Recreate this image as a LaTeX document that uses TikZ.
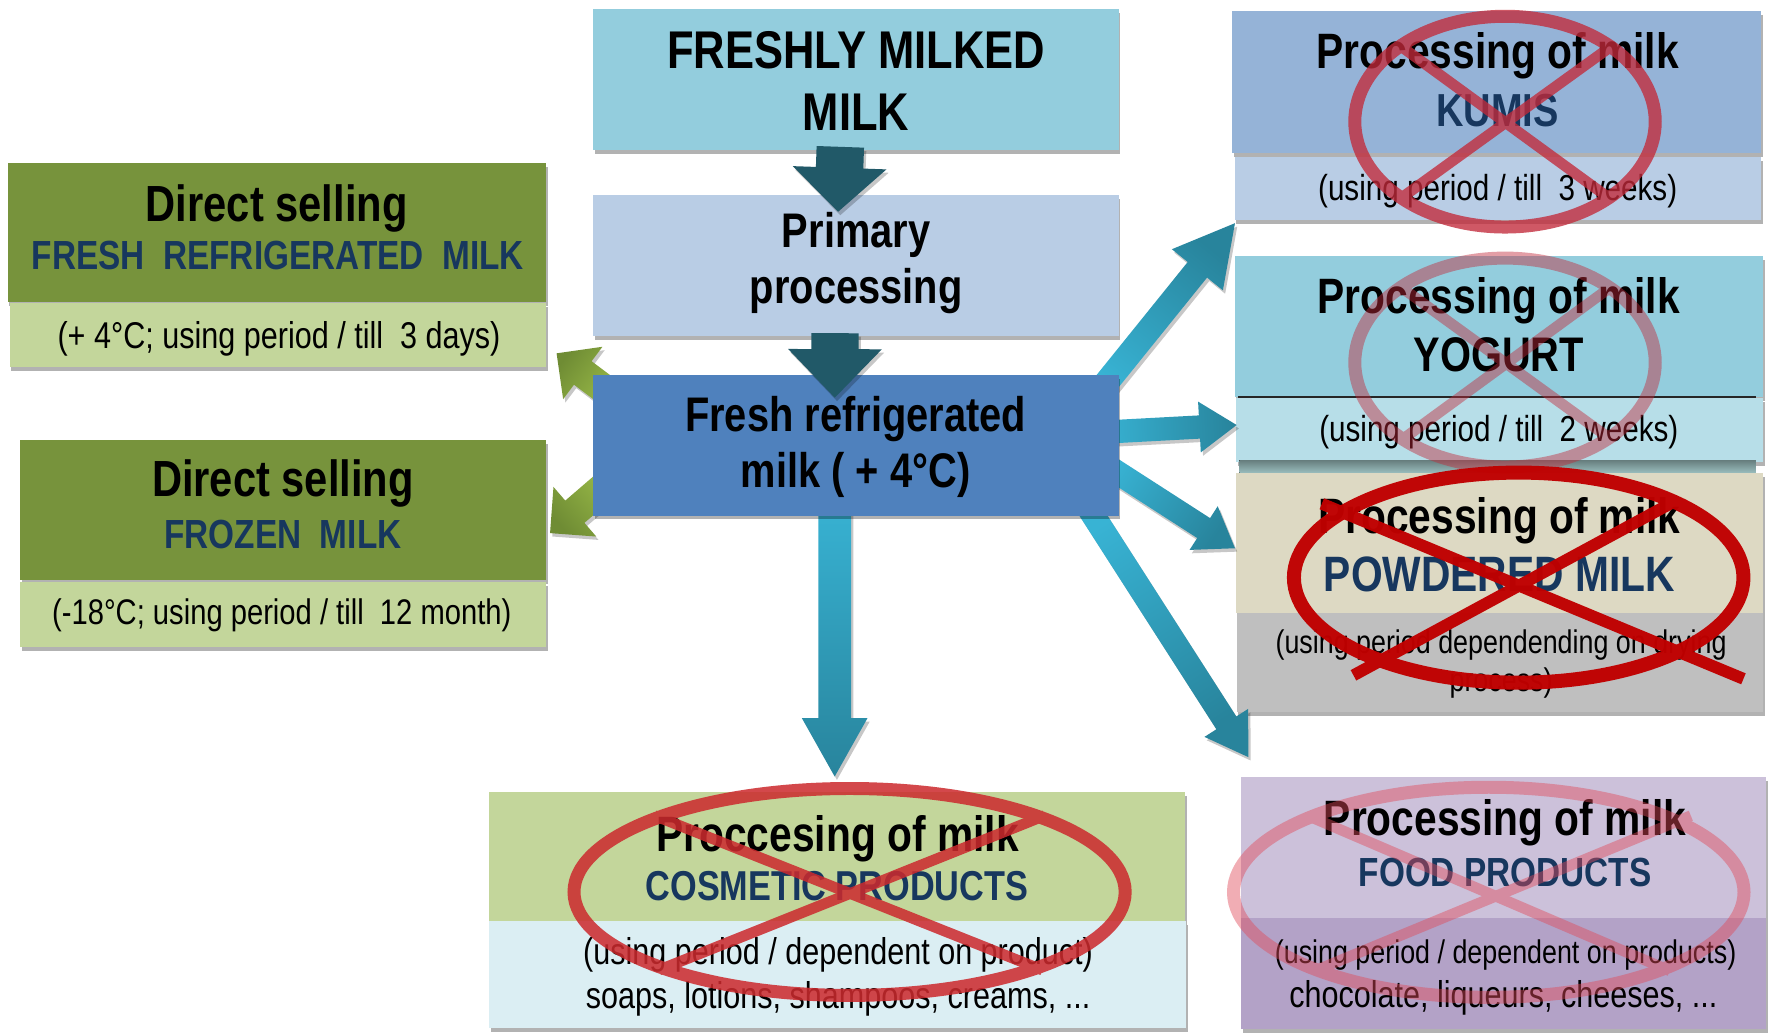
\documentclass[tikz,border=0pt]{standalone}
\usepackage{fontspec}
\setmainfont{Liberation Sans}[FakeStretch=0.82]
\usetikzlibrary{calc}
\definecolor{olivehd}{HTML}{77933C}
\definecolor{olivesub}{HTML}{C3D69B}
\definecolor{navytxt}{HTML}{17375E}
\definecolor{aquahd}{HTML}{93CDDD}
\definecolor{aquasub}{HTML}{B7DEE8}
\definecolor{bluelt}{HTML}{B9CDE5}
\definecolor{bluemid}{HTML}{95B3D7}
\definecolor{bluedk}{HTML}{4F81BD}
\definecolor{tanhd}{HTML}{DDD9C3}
\definecolor{graysub}{HTML}{BFBFBF}
\definecolor{lilachd}{HTML}{CCC1DA}
\definecolor{lilacsub}{HTML}{B3A2C7}
\definecolor{icesub}{HTML}{DBEEF3}
\definecolor{darkteal}{HTML}{215968}
\definecolor{teallt}{HTML}{38B3D4}
\definecolor{tealdk}{HTML}{28849C}
\definecolor{greenlt}{HTML}{9DBE4A}
\definecolor{greendk}{HTML}{6F8C34}
\definecolor{crossred}{HTML}{C22A3A}
\definecolor{cosred}{HTML}{CC2A2E}
\definecolor{foodred}{HTML}{E04A5A}
\definecolor{strongred}{HTML}{C00000}
\tikzset{
  hb/.style={font=\fontsize{#1}{#1}\selectfont\bfseries, anchor=base, inner sep=0pt},
  hr/.style={font=\fontsize{#1}{#1}\selectfont, anchor=base, inner sep=0pt},
  blu/.style={text=navytxt},
  boxshadow/.style={fill=black, fill opacity=0.3},
  arrowshadow/.style={fill=black, fill opacity=0.22},
  tealarrow/.style={top color=tealdk, bottom color=teallt, shading angle=#1},
  greenarrow/.style={top color=greendk, bottom color=greenlt, shading angle=#1},
  darkarrow/.style={fill=darkteal},
  ringline/.style={draw=#1, line width=11.5pt},
  crossline/.style={draw=#1, line width=9.5pt}
}
% box: name, x1, y1, x2, y2, fill
\newcommand\mkbox[6]{%
  \fill[boxshadow] (#2+1.5,#3+3.5) rectangle (#4+1.5,#5+3.5);
  \node[fill=#6, inner sep=0pt, outer sep=0pt, anchor=north west,
        minimum width={#4-#2}, minimum height={#5-#3}] (#1) at (#2,#3) {};
}
% block arrow: options, from, to, shaft half width, head half width, head length
\newcommand\blockarrow[6]{%
  \coordinate (bah) at ($(#3)!#6pt!(#2)$);
  \path[#1] ($(#2)!#4pt!90:(#3)$) -- ($(bah)!#4pt!-90:(#2)$) -- ($(bah)!#5pt!-90:(#2)$)
    -- (#3) -- ($(bah)!#5pt!90:(#2)$) -- ($(bah)!#4pt!90:(#2)$) -- ($(#2)!#4pt!-90:(#3)$) -- cycle;
}
\newcommand\shadowedarrow[7]{%
  \begin{scope}[transform canvas={xshift=2pt,yshift=-3pt}]
    \blockarrow{arrowshadow}{#2}{#3}{#4}{#5}{#6}
  \end{scope}
  \blockarrow{#1}{#2}{#3}{#4}{#5}{#6}
}
\begin{document}
\begin{tikzpicture}[x=1pt,y=-1pt]
\useasboundingbox (0,0) rectangle (1568,914);
\fill[white] (0,0) rectangle (1568,914);

% ---------- boxes ----------
\mkbox{dsAh}{6.8}{144.6}{483.5}{267.1}{olivehd}
\mkbox{dsAs}{8.5}{268.6}{483.5}{324.6}{olivesub}
\mkbox{dsBh}{17.6}{389.6}{483.5}{513.5}{olivehd}
\mkbox{dsBs}{17.6}{515}{483.5}{572.5}{olivesub}
\mkbox{fm}{524.9}{7.6}{990.4}{132.6}{aquahd}
\mkbox{pp}{524.9}{172.3}{990.4}{297.3}{bluelt}
\mkbox{kuh}{1091}{9.7}{1559.2}{135.8}{bluemid}
\mkbox{kus}{1093.2}{138.7}{1559.2}{194.8}{bluelt}
\mkbox{yoh}{1093.2}{226.6}{1560.8}{351.2}{aquahd}
\mkbox{yos}{1094.5}{352.2}{1560.8}{408.7}{aquasub}
\fill[top color=black!85!cyan!60, bottom color=black!65!cyan!40] (1097.2,407.3) rectangle (1554.5,418.6);
\draw[line width=1.6pt, black!85] (1096.3,351.4) -- (1554.5,351.4);
\mkbox{poh}{1094.1}{418.6}{1560.8}{542.9}{tanhd}
\mkbox{pos}{1095}{542.9}{1560.8}{630.1}{graysub}
\mkbox{foh}{1098.7}{688.3}{1563.9}{812.7}{lilachd}
\mkbox{fos}{1098.7}{812.7}{1563.9}{911.1}{lilacsub}
\mkbox{coh}{433.1}{701}{1049}{815.2}{olivesub}
\mkbox{cos}{433.1}{815.2}{1050}{909.9}{icesub}

% ---------- arrow end points ----------
\coordinate (t1s) at (967.6,353.6);  \coordinate (t1e) at (1093.4,197.6);
\coordinate (t2s) at (971.6,382.9);  \coordinate (t2e) at (1094.9,376.3);
\coordinate (t3s) at (974.8,409.0);  \coordinate (t3e) at (1093.4,485.4);
\coordinate (t4s) at (957.2,439.6);  \coordinate (t4e) at (1105.2,670.3);
\coordinate (t5s) at (739.0,440.0);  \coordinate (t5e) at (739.0,687.5);
\coordinate (g1s) at (545,352);      \coordinate (g1e) at (492.8,312.8);
\coordinate (g2s) at (545,422);      \coordinate (g2e) at (487,472);
\coordinate (d1s) at (744,130);      \coordinate (d1e) at (742,187.5);
\coordinate (d2s) at (739.3,295);    \coordinate (d2e) at (739.1,352.1);

% ---------- arrows behind the central box ----------
\shadowedarrow{tealarrow=-39}{t1s}{t1e}{11}{29}{53}{}
\shadowedarrow{tealarrow=-87}{t2s}{t2e}{10.3}{22.5}{33}{}
\shadowedarrow{tealarrow=-123}{t3s}{t3e}{10.5}{23}{33}{}
\shadowedarrow{tealarrow=-147}{t4s}{t4e}{10.5}{23}{36}{}
\shadowedarrow{tealarrow=180}{t5s}{t5e}{14.5}{29}{51.6}{}
\shadowedarrow{greenarrow=52}{g1s}{g1e}{13}{29}{29}{}
\shadowedarrow{greenarrow=131}{g2s}{g2e}{13}{29}{29}{}

\mkbox{fr}{524.9}{332.3}{990.4}{456.4}{bluedk}

% ---------- dark arrows over boxes ----------
\shadowedarrow{darkarrow}{d1s}{d1e}{21}{41.5}{39}{}
\shadowedarrow{darkarrow}{d2s}{d2e}{21}{41.5}{43}{}

% ---------- texts ----------
\node[hb=45] (dsA1) at (245,196.3) {Direct selling};
\node[hb=36,blu] (dsA2) at (246,239) {FRESH~ REFRIGERATED~ MILK};
\node[hr=33] (dsA3) at (247,308.4) {(+ 4°C; using period / till~ 3 days)};
\node[hb=45] (dsB1) at (250.5,439.7) {Direct selling};
\node[hb=36,blu] (dsB2) at (250.5,485.5) {FROZEN~ MILK};
\node[hr=31.5] (dsB3) at (249.5,553.3) {(-18°C; using period / till~ 12 month)};

\node[hb=47] (fm1) at (758,61) {FRESHLY MILKED};
\node[hb=47] (fm2) at (758,115.9) {MILK};
\node[hb=43] (pp1) at (758,219.5) {Primary};
\node[hb=43] (pp2) at (758,268.3) {processing};
\node[hb=43] (fr1) at (757.5,381.7) {Fresh refrigerated};
\node[hb=43] (fr2) at (757.5,431.4) {milk ( + 4°C)};

\node[hb=44] (ku1) at (1326,60.5) {Processing of milk};
\node[hb=41,blu] (ku2) at (1326,112.2) {KUMIS};
\node[hr=32] (ku3) at (1326,177.1) {(using period / till~ 3 weeks)};
\node[hb=44] (yo1) at (1327,277.4) {Processing of milk};
\node[hb=43] (yo2) at (1327,329.1) {YOGURT};
\node[hr=32] (yo3) at (1327,391) {(using period / till~ 2 weeks)};
\node[hb=44] (po1) at (1327.5,471.9) {Processing of milk};
\node[hb=44,blu] (po2) at (1327.5,523.5) {POWDERED MILK};
\node[hr=29] (po3) at (1329,578.5) {(using period dependending on drying};
\node[hr=29] (po4) at (1329,612.4) {process)};
\node[hb=44] (fo1) at (1332.5,740) {Processing of milk};
\node[hb=36,blu] (fo2) at (1332.5,785.2) {FOOD PRODUCTS};
\node[hr=29] (fo3) at (1333,853) {(using period / dependent on products)};
\node[hr=33] (fo4) at (1331,891.7) {chocolate, liqueurs, cheeses, ...};
\node[hb=44] (co1) at (741.5,753.6) {Proccesing of milk};
\node[hb=37,blu] (co2) at (741,797.2) {COSMETIC PRODUCTS};
\node[hr=33] (co3) at (742,854.3) {(using period / dependent on product)};
\node[hr=33] (co4) at (742,893.3) {soaps, lotions, shampoos, creams, ...};

% ---------- crossed-out ellipses ----------
\begin{scope}[transparency group, opacity=0.78]
  \draw[ringline=crossred] (1332.5,107.7) ellipse [x radius=133pt, y radius=93.3pt];
  \draw[crossline=crossred] (1238.5,39.7) -- (1426.5,176.7);
  \draw[crossline=crossred] (1428.4,39.7) -- (1240,175.7);
\end{scope}
\begin{scope}[transparency group, opacity=0.45]
  \draw[ringline=crossred] (1332.5,321) ellipse [x radius=133pt, y radius=92.5pt];
  \draw[crossline=crossred] (1238,252.5) -- (1427,389.5);
  \draw[crossline=crossred] (1428.4,252.5) -- (1241,389.5);
\end{scope}
\begin{scope}[transparency group, opacity=0.97]
  \draw[draw=strongred, line width=12.4pt] (1344.6,511.4) ellipse [x radius=199pt, y radius=93pt];
  \draw[draw=strongred, line width=10.5pt] (1170.3,446) -- (1543.6,601);
  \draw[draw=strongred, line width=10.5pt] (1484.6,442.8) -- (1198.3,597.9);
\end{scope}
\begin{scope}[transparency group, opacity=0.45]
  \draw[ringline=foodred] (1318.1,790) ellipse [x radius=226pt, y radius=93pt];
  \draw[crossline=foodred] (1157.9,722.2) -- (1478.4,859.5);
  \draw[crossline=foodred] (1497,722.2) -- (1164.2,859.5);
\end{scope}
\begin{scope}[transparency group, opacity=0.86]
  \draw[ringline=cosred] (752.2,789.7) ellipse [x radius=244pt, y radius=91.6pt];
  \draw[crossline=cosred] (579.5,722.1) -- (922.9,858.8);
  \draw[crossline=cosred] (924.9,722.1) -- (583.5,858.8);
\end{scope}
\end{tikzpicture}
\end{document}
